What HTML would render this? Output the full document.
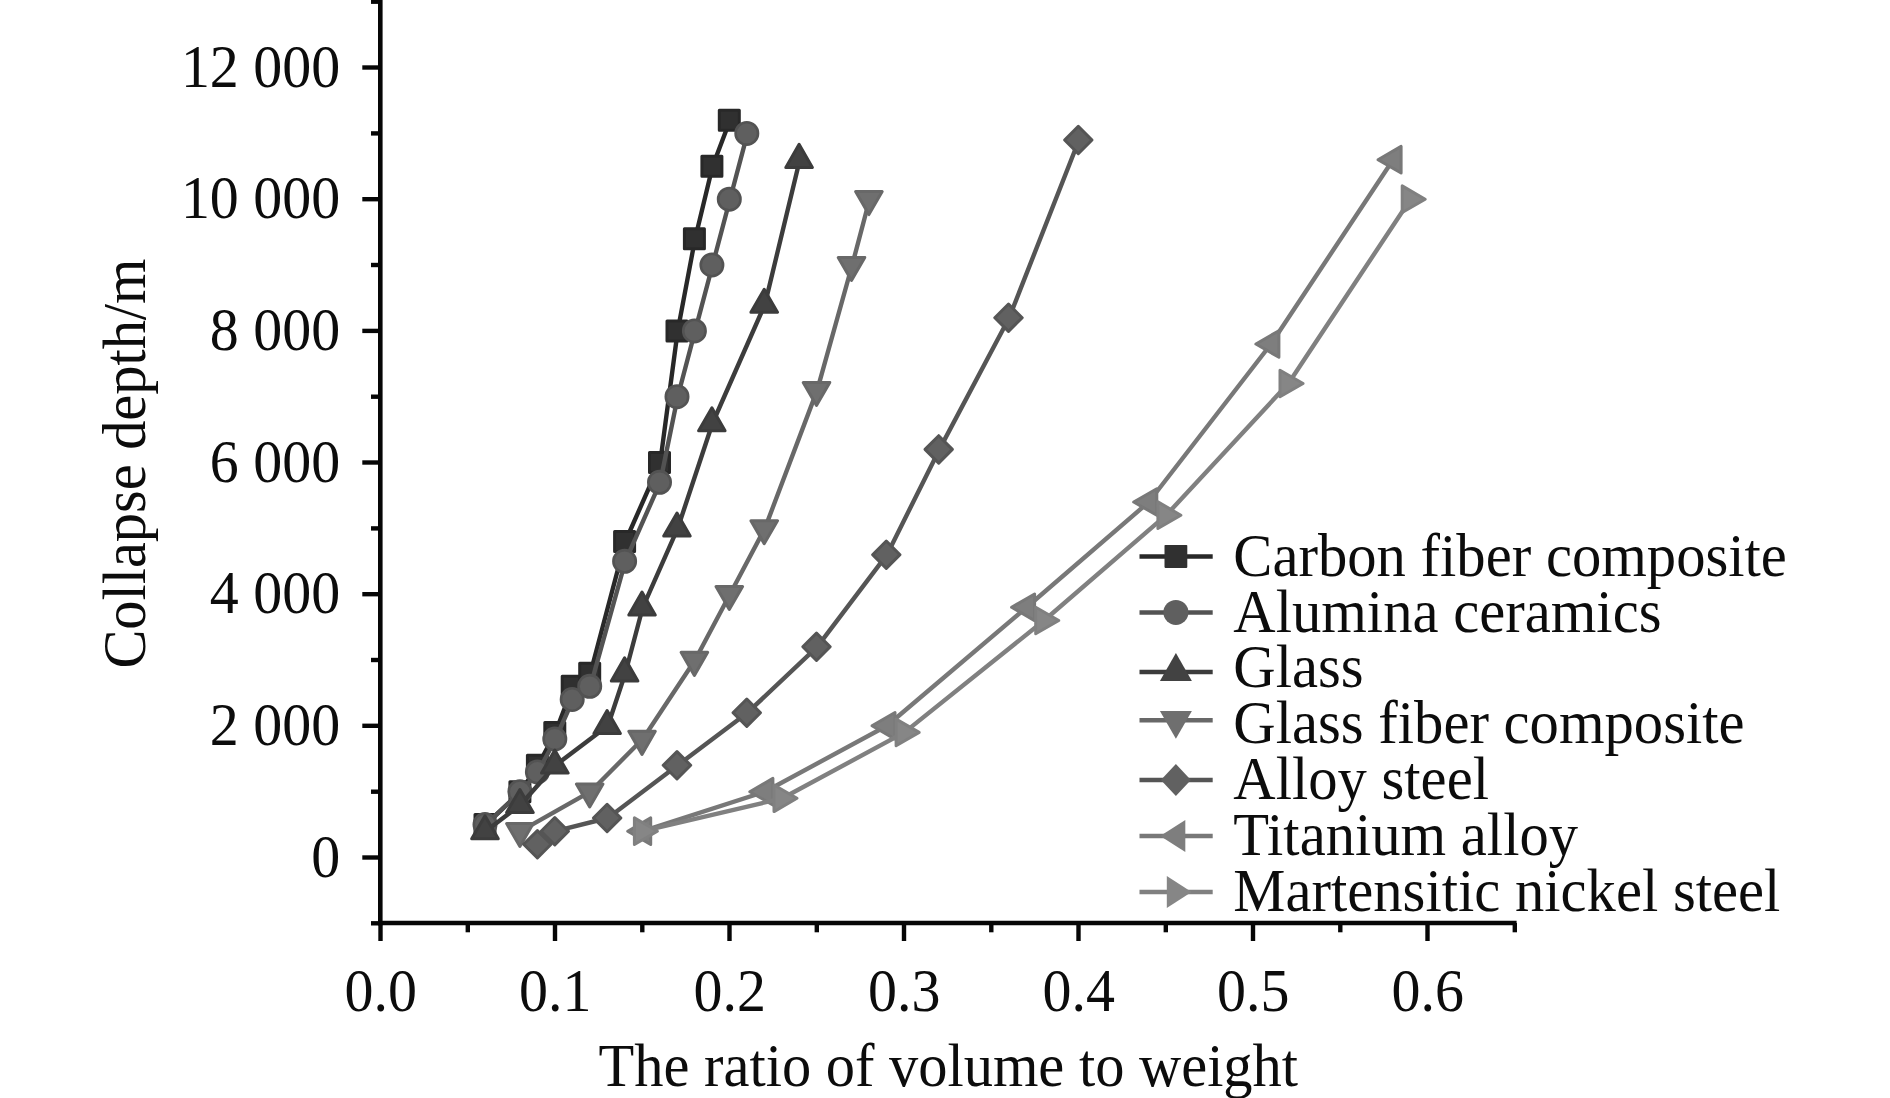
<!DOCTYPE html>
<html lang="en">
<head>
<meta charset="utf-8">
<title>Collapse depth vs ratio of volume to weight</title>
<style>
html,body{margin:0;padding:0;background:#fff;}
body{width:1890px;height:1098px;overflow:hidden;}
svg{display:block;}
text{font-family:"Liberation Serif","Times New Roman",serif;fill:#0c0c0c;}
</style>
</head>
<body>
<svg width="1890" height="1098" viewBox="0 0 1890 1098">
<rect x="0" y="0" width="1890" height="1098" fill="#ffffff"/>

<g stroke="#060606" stroke-width="4.6" fill="none" stroke-linecap="butt">
<line x1="380.3" y1="0" x2="380.3" y2="925.3"/>
<line x1="378.0" y1="923.0" x2="1516.6" y2="923.0"/>
</g>
<g stroke="#060606" stroke-width="4.4" fill="none">
<line x1="371.0" y1="923.3" x2="380.3" y2="923.3"/>
<line x1="362.3" y1="857.5" x2="380.3" y2="857.5"/>
<line x1="371.0" y1="791.7" x2="380.3" y2="791.7"/>
<line x1="362.3" y1="725.8" x2="380.3" y2="725.8"/>
<line x1="371.0" y1="660.0" x2="380.3" y2="660.0"/>
<line x1="362.3" y1="594.2" x2="380.3" y2="594.2"/>
<line x1="371.0" y1="528.4" x2="380.3" y2="528.4"/>
<line x1="362.3" y1="462.5" x2="380.3" y2="462.5"/>
<line x1="371.0" y1="396.7" x2="380.3" y2="396.7"/>
<line x1="362.3" y1="330.9" x2="380.3" y2="330.9"/>
<line x1="371.0" y1="265.0" x2="380.3" y2="265.0"/>
<line x1="362.3" y1="199.2" x2="380.3" y2="199.2"/>
<line x1="371.0" y1="133.4" x2="380.3" y2="133.4"/>
<line x1="362.3" y1="67.5" x2="380.3" y2="67.5"/>
<line x1="371.0" y1="1.7" x2="380.3" y2="1.7"/>
<line x1="380.5" y1="923.0" x2="380.5" y2="941.0"/>
<line x1="467.8" y1="923.0" x2="467.8" y2="932.3"/>
<line x1="555.0" y1="923.0" x2="555.0" y2="941.0"/>
<line x1="642.3" y1="923.0" x2="642.3" y2="932.3"/>
<line x1="729.5" y1="923.0" x2="729.5" y2="941.0"/>
<line x1="816.8" y1="923.0" x2="816.8" y2="932.3"/>
<line x1="904.0" y1="923.0" x2="904.0" y2="941.0"/>
<line x1="991.3" y1="923.0" x2="991.3" y2="932.3"/>
<line x1="1078.5" y1="923.0" x2="1078.5" y2="941.0"/>
<line x1="1165.8" y1="923.0" x2="1165.8" y2="932.3"/>
<line x1="1253.0" y1="923.0" x2="1253.0" y2="941.0"/>
<line x1="1340.3" y1="923.0" x2="1340.3" y2="932.3"/>
<line x1="1427.5" y1="923.0" x2="1427.5" y2="941.0"/>
<line x1="1514.8" y1="923.0" x2="1514.8" y2="932.3"/>
</g>
<text transform="translate(340.2,876.7) scale(0.942,1)" font-size="61.5" text-anchor="end">0</text>
<text transform="translate(340.2,745.0) scale(0.942,1)" font-size="61.5" text-anchor="end">2 000</text>
<text transform="translate(340.2,613.4) scale(0.942,1)" font-size="61.5" text-anchor="end">4 000</text>
<text transform="translate(340.2,481.7) scale(0.942,1)" font-size="61.5" text-anchor="end">6 000</text>
<text transform="translate(340.2,350.1) scale(0.942,1)" font-size="61.5" text-anchor="end">8 000</text>
<text transform="translate(340.2,218.4) scale(0.942,1)" font-size="61.5" text-anchor="end">10 000</text>
<text transform="translate(340.2,86.7) scale(0.942,1)" font-size="61.5" text-anchor="end">12 000</text>
<text transform="translate(380.8,1011.4) scale(0.942,1)" font-size="61.5" text-anchor="middle">0.0</text>
<text transform="translate(555.3,1011.4) scale(0.942,1)" font-size="61.5" text-anchor="middle">0.1</text>
<text transform="translate(729.8,1011.4) scale(0.942,1)" font-size="61.5" text-anchor="middle">0.2</text>
<text transform="translate(904.3,1011.4) scale(0.942,1)" font-size="61.5" text-anchor="middle">0.3</text>
<text transform="translate(1078.8,1011.4) scale(0.942,1)" font-size="61.5" text-anchor="middle">0.4</text>
<text transform="translate(1253.3,1011.4) scale(0.942,1)" font-size="61.5" text-anchor="middle">0.5</text>
<text transform="translate(1427.8,1011.4) scale(0.942,1)" font-size="61.5" text-anchor="middle">0.6</text>
<text transform="translate(948.3,1086.0) scale(0.9504,1)" font-size="61.5" text-anchor="middle">The ratio of volume to weight</text>
<text transform="translate(145.2,463.6) rotate(-90) scale(0.949,1)" font-size="61.5" text-anchor="middle">Collapse depth/m</text>
<g>
<polyline points="485.7,824.6 520.6,791.7 538.1,765.3 555.5,732.4 573.0,686.3 590.4,673.2 625.3,541.5 660.2,462.5 677.7,330.9 695.1,238.7 712.6,166.3 730.0,120.2" fill="none" stroke="#282828" stroke-width="4.4" stroke-linejoin="round"/>
<rect x="475.0" y="814.6" width="20.0" height="20.0" fill="#303030" stroke="#282828" stroke-width="3.0" stroke-linejoin="round"/>
<rect x="509.9" y="781.7" width="20.0" height="20.0" fill="#303030" stroke="#282828" stroke-width="3.0" stroke-linejoin="round"/>
<rect x="527.4" y="755.3" width="20.0" height="20.0" fill="#303030" stroke="#282828" stroke-width="3.0" stroke-linejoin="round"/>
<rect x="544.8" y="722.4" width="20.0" height="20.0" fill="#303030" stroke="#282828" stroke-width="3.0" stroke-linejoin="round"/>
<rect x="562.2" y="676.3" width="20.0" height="20.0" fill="#303030" stroke="#282828" stroke-width="3.0" stroke-linejoin="round"/>
<rect x="579.7" y="663.2" width="20.0" height="20.0" fill="#303030" stroke="#282828" stroke-width="3.0" stroke-linejoin="round"/>
<rect x="614.6" y="531.5" width="20.0" height="20.0" fill="#303030" stroke="#282828" stroke-width="3.0" stroke-linejoin="round"/>
<rect x="649.5" y="452.5" width="20.0" height="20.0" fill="#303030" stroke="#282828" stroke-width="3.0" stroke-linejoin="round"/>
<rect x="667.0" y="320.9" width="20.0" height="20.0" fill="#303030" stroke="#282828" stroke-width="3.0" stroke-linejoin="round"/>
<rect x="684.4" y="228.7" width="20.0" height="20.0" fill="#303030" stroke="#282828" stroke-width="3.0" stroke-linejoin="round"/>
<rect x="701.9" y="156.3" width="20.0" height="20.0" fill="#303030" stroke="#282828" stroke-width="3.0" stroke-linejoin="round"/>
<rect x="719.3" y="110.2" width="20.0" height="20.0" fill="#303030" stroke="#282828" stroke-width="3.0" stroke-linejoin="round"/>
</g>
<g>
<polyline points="485.7,824.6 520.6,791.7 538.1,771.9 555.5,739.0 573.0,699.5 590.4,686.3 625.3,561.3 660.2,482.3 677.7,396.7 695.1,330.9 712.6,265.0 730.0,199.2 747.5,133.4" fill="none" stroke="#535353" stroke-width="4.4" stroke-linejoin="round"/>
<circle cx="485.0" cy="824.6" r="11.2" fill="#5f5f5f" stroke="#535353" stroke-width="2.6"/>
<circle cx="519.9" cy="791.7" r="11.2" fill="#5f5f5f" stroke="#535353" stroke-width="2.6"/>
<circle cx="537.4" cy="771.9" r="11.2" fill="#5f5f5f" stroke="#535353" stroke-width="2.6"/>
<circle cx="554.8" cy="739.0" r="11.2" fill="#5f5f5f" stroke="#535353" stroke-width="2.6"/>
<circle cx="572.2" cy="699.5" r="11.2" fill="#5f5f5f" stroke="#535353" stroke-width="2.6"/>
<circle cx="589.7" cy="686.3" r="11.2" fill="#5f5f5f" stroke="#535353" stroke-width="2.6"/>
<circle cx="624.6" cy="561.3" r="11.2" fill="#5f5f5f" stroke="#535353" stroke-width="2.6"/>
<circle cx="659.5" cy="482.3" r="11.2" fill="#5f5f5f" stroke="#535353" stroke-width="2.6"/>
<circle cx="677.0" cy="396.7" r="11.2" fill="#5f5f5f" stroke="#535353" stroke-width="2.6"/>
<circle cx="694.4" cy="330.9" r="11.2" fill="#5f5f5f" stroke="#535353" stroke-width="2.6"/>
<circle cx="711.9" cy="265.0" r="11.2" fill="#5f5f5f" stroke="#535353" stroke-width="2.6"/>
<circle cx="729.3" cy="199.2" r="11.2" fill="#5f5f5f" stroke="#535353" stroke-width="2.6"/>
<circle cx="746.8" cy="133.4" r="11.2" fill="#5f5f5f" stroke="#535353" stroke-width="2.6"/>
</g>
<g>
<polyline points="485.7,831.2 520.6,804.8 555.5,765.3 607.9,725.8 625.3,673.2 642.8,607.3 677.7,528.4 712.6,423.0 764.9,304.5 799.8,159.7" fill="none" stroke="#3c3c3c" stroke-width="4.4" stroke-linejoin="round"/>
<polygon points="485.0,815.8 498.3,838.8 471.7,838.8" fill="#424242" stroke="#3c3c3c" stroke-width="3.0" stroke-linejoin="round"/>
<polygon points="519.9,789.5 533.2,812.5 506.6,812.5" fill="#424242" stroke="#3c3c3c" stroke-width="3.0" stroke-linejoin="round"/>
<polygon points="554.8,750.0 568.1,773.0 541.5,773.0" fill="#424242" stroke="#3c3c3c" stroke-width="3.0" stroke-linejoin="round"/>
<polygon points="607.1,710.5 620.4,733.5 593.9,733.5" fill="#424242" stroke="#3c3c3c" stroke-width="3.0" stroke-linejoin="round"/>
<polygon points="624.6,657.8 637.9,680.9 611.3,680.9" fill="#424242" stroke="#3c3c3c" stroke-width="3.0" stroke-linejoin="round"/>
<polygon points="642.0,592.0 655.3,615.0 628.8,615.0" fill="#424242" stroke="#3c3c3c" stroke-width="3.0" stroke-linejoin="round"/>
<polygon points="677.0,513.0 690.2,536.0 663.7,536.0" fill="#424242" stroke="#3c3c3c" stroke-width="3.0" stroke-linejoin="round"/>
<polygon points="711.9,407.7 725.1,430.7 698.6,430.7" fill="#424242" stroke="#3c3c3c" stroke-width="3.0" stroke-linejoin="round"/>
<polygon points="764.2,289.2 777.5,312.2 750.9,312.2" fill="#424242" stroke="#3c3c3c" stroke-width="3.0" stroke-linejoin="round"/>
<polygon points="799.1,144.3 812.4,167.4 785.8,167.4" fill="#424242" stroke="#3c3c3c" stroke-width="3.0" stroke-linejoin="round"/>
</g>
<g>
<polyline points="520.6,831.2 590.4,791.7 642.8,739.0 695.1,660.0 730.0,594.2 764.9,528.4 817.2,390.1 852.2,265.0 869.6,199.2" fill="none" stroke="#686868" stroke-width="4.4" stroke-linejoin="round"/>
<polygon points="519.9,846.5 533.2,823.5 506.6,823.5" fill="#6f6f6f" stroke="#686868" stroke-width="3.0" stroke-linejoin="round"/>
<polygon points="589.7,807.0 603.0,784.0 576.4,784.0" fill="#6f6f6f" stroke="#686868" stroke-width="3.0" stroke-linejoin="round"/>
<polygon points="642.0,754.4 655.3,731.3 628.8,731.3" fill="#6f6f6f" stroke="#686868" stroke-width="3.0" stroke-linejoin="round"/>
<polygon points="694.4,675.4 707.7,652.3 681.1,652.3" fill="#6f6f6f" stroke="#686868" stroke-width="3.0" stroke-linejoin="round"/>
<polygon points="729.3,609.5 742.6,586.5 716.0,586.5" fill="#6f6f6f" stroke="#686868" stroke-width="3.0" stroke-linejoin="round"/>
<polygon points="764.2,543.7 777.5,520.7 750.9,520.7" fill="#6f6f6f" stroke="#686868" stroke-width="3.0" stroke-linejoin="round"/>
<polygon points="816.5,405.5 829.8,382.4 803.2,382.4" fill="#6f6f6f" stroke="#686868" stroke-width="3.0" stroke-linejoin="round"/>
<polygon points="851.5,280.4 864.8,257.4 838.2,257.4" fill="#6f6f6f" stroke="#686868" stroke-width="3.0" stroke-linejoin="round"/>
<polygon points="868.9,214.6 882.2,191.5 855.6,191.5" fill="#6f6f6f" stroke="#686868" stroke-width="3.0" stroke-linejoin="round"/>
</g>
<g>
<polyline points="538.1,844.3 555.5,831.2 607.9,818.0 677.7,765.3 747.5,712.7 817.2,646.8 887.0,554.7 939.4,449.4 1009.2,317.7 1079.0,140.0" fill="none" stroke="#555555" stroke-width="4.4" stroke-linejoin="round"/>
<polygon points="537.4,830.6 551.1,844.3 537.4,858.0 523.6,844.3" fill="#616161" stroke="#555555" stroke-width="3.0" stroke-linejoin="round"/>
<polygon points="554.8,817.5 568.5,831.2 554.8,844.9 541.1,831.2" fill="#616161" stroke="#555555" stroke-width="3.0" stroke-linejoin="round"/>
<polygon points="607.1,804.3 620.9,818.0 607.1,831.7 593.4,818.0" fill="#616161" stroke="#555555" stroke-width="3.0" stroke-linejoin="round"/>
<polygon points="677.0,751.6 690.7,765.3 677.0,779.0 663.2,765.3" fill="#616161" stroke="#555555" stroke-width="3.0" stroke-linejoin="round"/>
<polygon points="746.8,699.0 760.5,712.7 746.8,726.4 733.0,712.7" fill="#616161" stroke="#555555" stroke-width="3.0" stroke-linejoin="round"/>
<polygon points="816.5,633.1 830.2,646.8 816.5,660.5 802.8,646.8" fill="#616161" stroke="#555555" stroke-width="3.0" stroke-linejoin="round"/>
<polygon points="886.3,541.0 900.0,554.7 886.3,568.4 872.6,554.7" fill="#616161" stroke="#555555" stroke-width="3.0" stroke-linejoin="round"/>
<polygon points="938.7,435.7 952.4,449.4 938.7,463.1 925.0,449.4" fill="#616161" stroke="#555555" stroke-width="3.0" stroke-linejoin="round"/>
<polygon points="1008.5,304.0 1022.2,317.7 1008.5,331.4 994.8,317.7" fill="#616161" stroke="#555555" stroke-width="3.0" stroke-linejoin="round"/>
<polygon points="1078.3,126.3 1092.0,140.0 1078.3,153.7 1064.6,140.0" fill="#616161" stroke="#555555" stroke-width="3.0" stroke-linejoin="round"/>
</g>
<g>
<polyline points="642.8,831.2 764.9,791.7 887.0,725.8 1026.7,607.3 1148.8,502.0 1271.0,344.0 1393.1,159.7" fill="none" stroke="#787878" stroke-width="4.4" stroke-linejoin="round"/>
<polygon points="627.7,831.2 650.7,817.9 650.7,844.5" fill="#7e7e7e" stroke="#787878" stroke-width="3.0" stroke-linejoin="round"/>
<polygon points="749.8,791.7 772.9,778.4 772.9,805.0" fill="#7e7e7e" stroke="#787878" stroke-width="3.0" stroke-linejoin="round"/>
<polygon points="872.0,725.8 895.0,712.5 895.0,739.1" fill="#7e7e7e" stroke="#787878" stroke-width="3.0" stroke-linejoin="round"/>
<polygon points="1011.6,607.3 1034.6,594.0 1034.6,620.6" fill="#7e7e7e" stroke="#787878" stroke-width="3.0" stroke-linejoin="round"/>
<polygon points="1133.7,502.0 1156.8,488.7 1156.8,515.3" fill="#7e7e7e" stroke="#787878" stroke-width="3.0" stroke-linejoin="round"/>
<polygon points="1255.9,344.0 1278.9,330.7 1278.9,357.3" fill="#7e7e7e" stroke="#787878" stroke-width="3.0" stroke-linejoin="round"/>
<polygon points="1378.0,159.7 1401.1,146.4 1401.1,173.0" fill="#7e7e7e" stroke="#787878" stroke-width="3.0" stroke-linejoin="round"/>
</g>
<g>
<polyline points="642.8,831.2 782.4,798.3 904.5,732.4 1044.1,620.5 1166.2,515.2 1288.4,383.5 1410.5,199.2" fill="none" stroke="#808080" stroke-width="4.4" stroke-linejoin="round"/>
<polygon points="657.4,831.2 634.4,817.9 634.4,844.5" fill="#868686" stroke="#808080" stroke-width="3.0" stroke-linejoin="round"/>
<polygon points="797.0,798.3 774.0,785.0 774.0,811.6" fill="#868686" stroke="#808080" stroke-width="3.0" stroke-linejoin="round"/>
<polygon points="919.2,732.4 896.1,719.1 896.1,745.7" fill="#868686" stroke="#808080" stroke-width="3.0" stroke-linejoin="round"/>
<polygon points="1058.8,620.5 1035.7,607.2 1035.7,633.8" fill="#868686" stroke="#808080" stroke-width="3.0" stroke-linejoin="round"/>
<polygon points="1180.9,515.2 1157.9,501.9 1157.9,528.5" fill="#868686" stroke="#808080" stroke-width="3.0" stroke-linejoin="round"/>
<polygon points="1303.1,383.5 1280.0,370.2 1280.0,396.8" fill="#868686" stroke="#808080" stroke-width="3.0" stroke-linejoin="round"/>
<polygon points="1425.2,199.2 1402.2,185.9 1402.2,212.5" fill="#868686" stroke="#808080" stroke-width="3.0" stroke-linejoin="round"/>
</g>
<line x1="1139.5" y1="556.4" x2="1212.7" y2="556.4" stroke="#282828" stroke-width="4.5"/>
<rect x="1164.5" y="544.9" width="22.8" height="23" rx="0.8" fill="#303030"/>
<text transform="translate(1233.3,575.8) scale(0.9535,1)" font-size="61.5" text-anchor="start">Carbon fiber composite</text>
<line x1="1139.5" y1="612.4" x2="1212.7" y2="612.4" stroke="#535353" stroke-width="4.5"/>
<circle cx="1175.9" cy="612.4" r="12.5" fill="#5f5f5f"/>
<text transform="translate(1233.3,631.6) scale(0.9535,1)" font-size="61.5" text-anchor="start">Alumina ceramics</text>
<line x1="1139.5" y1="671.9" x2="1212.7" y2="671.9" stroke="#3c3c3c" stroke-width="4.5"/>
<polygon points="1175.9,653.0 1191.9,681.1 1159.9,681.1" fill="#424242"/>
<text transform="translate(1233.3,687.4) scale(0.9535,1)" font-size="61.5" text-anchor="start">Glass</text>
<line x1="1139.5" y1="720.2" x2="1212.7" y2="720.2" stroke="#686868" stroke-width="4.5"/>
<polygon points="1175.9,738.7 1191.9,710.9 1159.9,710.9" fill="#6f6f6f"/>
<text transform="translate(1233.3,743.2) scale(0.9535,1)" font-size="61.5" text-anchor="start">Glass fiber composite</text>
<line x1="1139.5" y1="780.0" x2="1212.7" y2="780.0" stroke="#555555" stroke-width="4.5"/>
<polygon points="1175.9,763.9 1190.9,780.0 1175.9,796.1 1160.9,780.0" fill="#616161"/>
<text transform="translate(1233.3,799.0) scale(0.9535,1)" font-size="61.5" text-anchor="start">Alloy steel</text>
<line x1="1139.5" y1="835.9" x2="1212.7" y2="835.9" stroke="#787878" stroke-width="4.5"/>
<polygon points="1160.2,835.9 1185.3,819.9 1185.3,851.9" fill="#7e7e7e"/>
<text transform="translate(1233.3,854.8) scale(0.9535,1)" font-size="61.5" text-anchor="start">Titanium alloy</text>
<line x1="1139.5" y1="892.0" x2="1212.7" y2="892.0" stroke="#808080" stroke-width="4.5"/>
<polygon points="1191.6,892.0 1166.8,876.0 1166.8,908.0" fill="#868686"/>
<text transform="translate(1233.3,910.6) scale(0.9535,1)" font-size="61.5" text-anchor="start">Martensitic nickel steel</text>
</svg>
</body>
</html>
